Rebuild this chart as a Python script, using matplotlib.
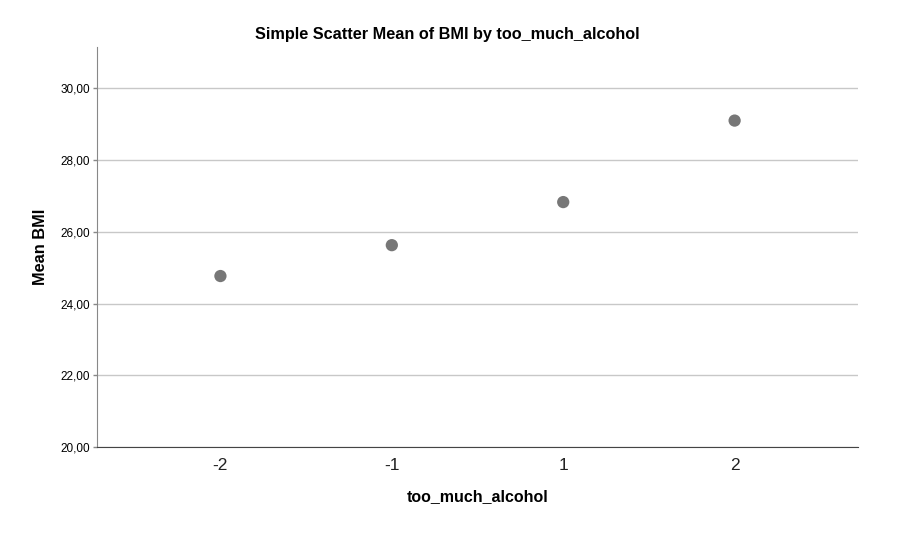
import numpy as np
import matplotlib.pyplot as plt

plt.rcParams['font.family'] = ['Liberation Sans', 'DejaVu Sans']

# data
categories = ['-2', '-1', '1', '2']
mean_bmi = [24.77, 25.63, 26.83, 29.10]
yticks = [20, 22, 24, 26, 28, 30]

fig = plt.figure(figsize=(9.05, 5.34), dpi=100)
ax = fig.add_axes([0.1072, 0.1624, 0.8409, 0.7496])

x = np.arange(len(categories))
ax.scatter(x, mean_bmi, s=78, color='#777777', edgecolors='none', zorder=3)

ax.set_xlim(-0.72, 3.72)
ax.set_ylim(20, 31.15)
ax.set_xticks(x)
ax.set_xticklabels(categories, fontsize=12.5, color='#222222')
ax.set_yticks(yticks)
ax.yaxis.set_major_formatter(plt.FuncFormatter(lambda v, p: ('%.2f' % v).replace('.', ',')))
ax.tick_params(axis='y', labelsize=8.5)
ax.tick_params(axis='x', length=0, pad=8)
ax.tick_params(axis='y', length=3, width=1, color='#888888', pad=2)

ax.grid(axis='y', color='#c8c8c8', linewidth=1)
ax.set_axisbelow(True)
for s in ['top', 'right']:
    ax.spines[s].set_visible(False)
ax.spines['left'].set_color('#888888')
ax.spines['bottom'].set_color('#444444')

ax.set_xlabel('too_much_alcohol', fontsize=11.5, fontweight='bold', labelpad=11)
ax.set_ylabel('Mean BMI', fontsize=11.8, fontweight='bold', labelpad=9)
fig.text(447 / 905, 1 - 34 / 534, 'Simple Scatter Mean of BMI by too_much_alcohol',
         ha='center', va='center', fontsize=11.7, fontweight='bold')

fig.savefig('out.png', dpi=100)
